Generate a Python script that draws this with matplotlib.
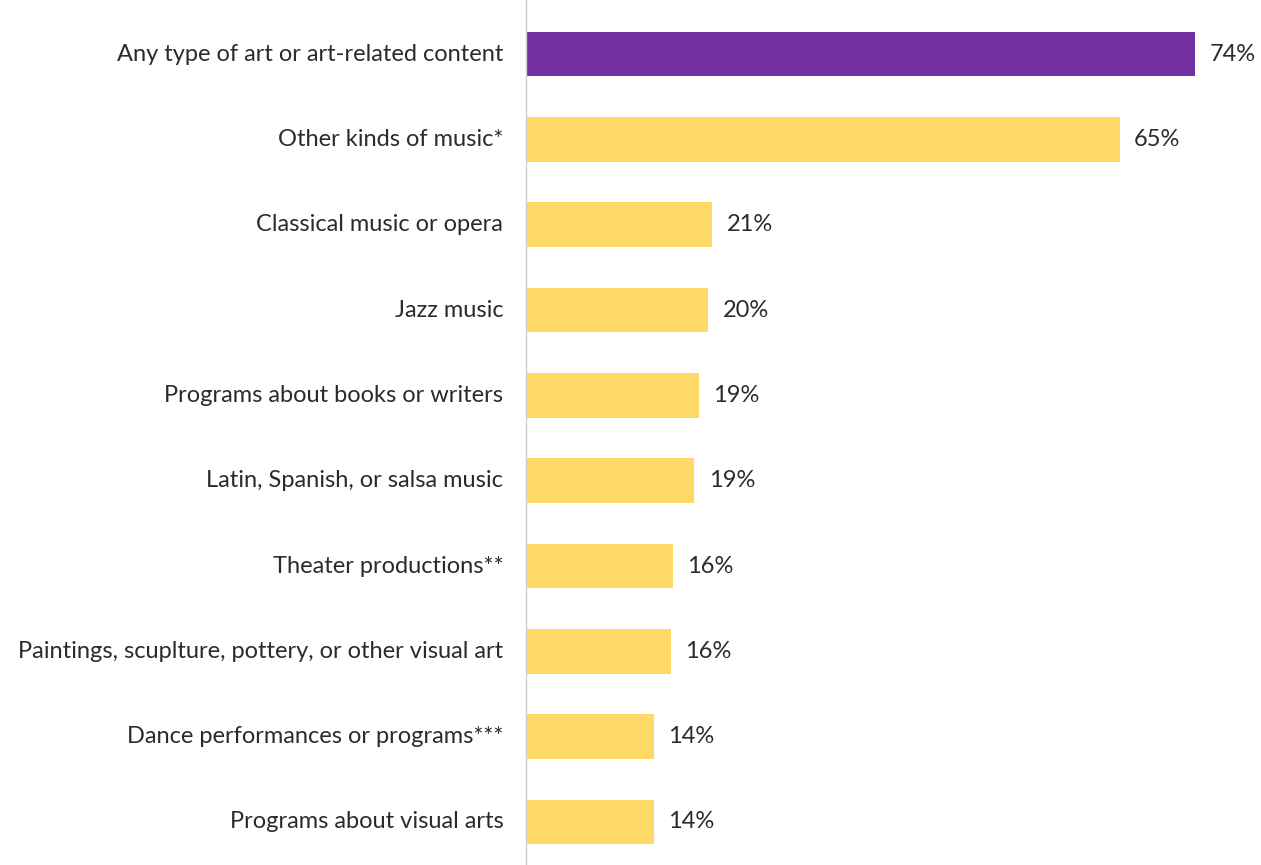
import matplotlib.pyplot as plt

categories = ['Any type of art or art-related content', 'Other kinds of music*',
              'Classical music or opera', 'Jazz music', 'Programs about books or writers',
              'Latin, Spanish, or salsa music', 'Theater productions**',
              'Paintings, scuplture, pottery, or other visual art',
              'Dance performances or programs***', 'Programs about visual arts']
values = [73.9, 65.6, 20.6, 20.1, 19.1, 18.6, 16.2, 16.0, 14.1, 14.1]
labels = ['74%', '65%', '21%', '20%', '19%', '19%', '16%', '16%', '14%', '14%']
colors = ['#7030A0'] + ['#FFD966'] * 9

plt.rcParams['font.family'] = ['Lato', 'DejaVu Sans']

fig = plt.figure(figsize=(12.61, 8.65), dpi=100)
ax = fig.add_axes([526 / 1261, 0, 1 - 526 / 1261, 1])

y = range(len(categories))
ax.barh(y, values, height=0.52, color=colors)
ax.set_ylim(len(categories) - 0.496, -0.633)
ax.set_xlim(0, 735 / 9.05)

for i, (v, lab) in enumerate(zip(values, labels)):
    ax.text(v + 1.6, i, lab, va='center', ha='left', fontsize=17, color='#2b2b2b')
    ax.text(-2.5, i, categories[i], va='center', ha='right', fontsize=17, color='#2b2b2b')

ax.set_xticks([])
ax.set_yticks([])
for s in ['top', 'right', 'bottom']:
    ax.spines[s].set_visible(False)
ax.spines['left'].set_color('#D0D0D0')
ax.spines['left'].set_linewidth(1)

fig.savefig('out.png', dpi=100)
